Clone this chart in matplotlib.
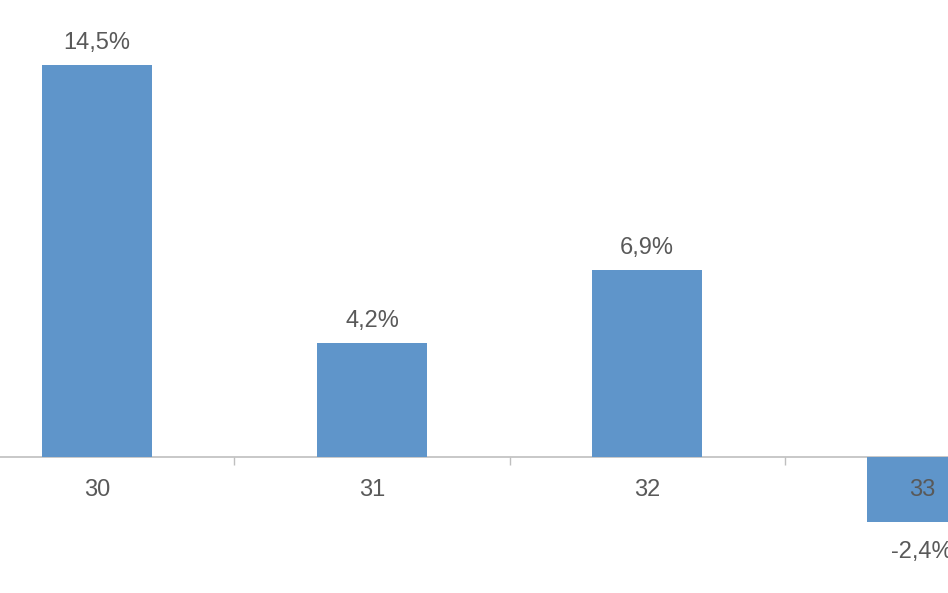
import matplotlib.pyplot as plt
import numpy as np

plt.rcParams.update({
    "font.family": ["Liberation Sans", "DejaVu Sans"],
    "font.size": 17,
})

categories = ["30", "31", "32", "33"]
values = [14.5, 4.2, 6.9, -2.4]

bar_color = "#5F95CA"
text_color = "#595959"

fig = plt.figure(figsize=(9.48, 5.93), dpi=100)
ax = fig.add_axes([0, 0, 1, 1])

x = np.arange(len(categories))
bars = ax.bar(x, values, width=0.4, color=bar_color, zorder=1)

for xi, v in zip(x, values):
    label = f"{v:.1f}".replace(".", ",") + "%"
    if v >= 0:
        ax.annotate(label, (xi, v), xytext=(0, 8), textcoords="offset points",
                    ha="center", va="bottom", color=text_color, fontsize=17)
    else:
        ax.annotate(label, (xi, v), xytext=(0, -14), textcoords="offset points",
                    ha="center", va="top", color=text_color, fontsize=17)

ax.set_xlim(-0.3527, 3.0945)
ax.set_ylim(-5.031, 16.907)

for side in ["top", "right", "left"]:
    ax.spines[side].set_visible(False)
ax.spines["bottom"].set_position(("data", 0))
ax.spines["bottom"].set_color("#BFBFBF")
ax.spines["bottom"].set_linewidth(1.2)
ax.spines["bottom"].set_zorder(0.5)

ax.set_yticks([])
ax.set_xticks(x)
ax.set_xticklabels(categories, color=text_color)
ax.tick_params(axis="x", which="major", length=0, pad=16)
ax.set_xticks(x[:-1] + 0.5, minor=True)
ax.tick_params(axis="x", which="minor", length=6, width=1, color="#BFBFBF", direction="out")

fig.savefig("out.png", dpi=100)
